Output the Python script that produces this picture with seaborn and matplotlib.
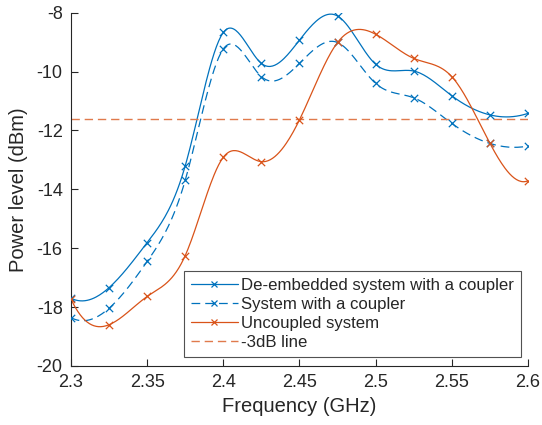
import numpy as np
import pandas as pd
import matplotlib
matplotlib.use("Agg")
import matplotlib.pyplot as plt
from matplotlib.lines import Line2D
import seaborn as sns

freq = [2.3, 2.325, 2.35, 2.375, 2.4, 2.425, 2.45, 2.475, 2.5, 2.525, 2.55, 2.575, 2.6]
deembedded = [-17.70, -17.34, -15.81, -13.20, -8.67, -9.72, -8.93, -8.11, -9.75, -9.98, -10.82, -11.47, -11.42]
with_coupler = [-18.36, -18.04, -16.45, -13.69, -9.23, -10.17, -9.72, -9.01, -10.40, -10.89, -11.76, -12.44, -12.53]
uncoupled = [-17.73, -18.60, -17.64, -16.25, -12.91, -13.06, -11.64, -9.01, -8.73, -9.55, -10.17, -12.43, -13.71]
line_3db = -11.6

labels = ["De-embedded system with a coupler", "System with a coupler", "Uncoupled system", "-3dB line"]
xticks = [2.3, 2.35, 2.4, 2.45, 2.5, 2.55, 2.6]
yticks = [-20, -18, -16, -14, -12, -10, -8]

BLUE = "#0072BD"
ORANGE = "#D95319"
ORANGE_LIGHT = "#E07A4C"


def spline_curve(x, y, num=400):
    """Not-a-knot cubic spline (like MATLAB's spline) evaluated for drawing the smooth curve."""
    x = np.asarray(x, float); y = np.asarray(y, float)
    n = len(x); m = n - 1
    A = np.zeros((4 * m, 4 * m)); b = np.zeros(4 * m)
    r = 0
    for i in range(m):
        h = x[i + 1] - x[i]
        A[r, 4 * i] = 1; b[r] = y[i]; r += 1
        A[r, 4 * i:4 * i + 4] = [1, h, h ** 2, h ** 3]; b[r] = y[i + 1]; r += 1
    for i in range(m - 1):
        h = x[i + 1] - x[i]
        A[r, 4 * i:4 * i + 4] = [0, 1, 2 * h, 3 * h ** 2]; A[r, 4 * (i + 1) + 1] = -1; r += 1
        A[r, 4 * i:4 * i + 4] = [0, 0, 2, 6 * h]; A[r, 4 * (i + 1) + 2] = -2; r += 1
    A[r, 3] = 1; A[r, 7] = -1; r += 1
    A[r, 4 * (m - 2) + 3] = 1; A[r, 4 * (m - 1) + 3] = -1; r += 1
    c = np.linalg.solve(A, b).reshape(m, 4)
    xs = np.linspace(x[0], x[-1], num)
    idx = np.clip(np.searchsorted(x, xs, side="right") - 1, 0, m - 1)
    t = xs - x[idx]
    ys = c[idx, 0] + c[idx, 1] * t + c[idx, 2] * t ** 2 + c[idx, 3] * t ** 3
    return xs, ys


sns.set_theme(style="white")
plt.rcParams["font.family"] = ["Liberation Sans", "DejaVu Sans"]

fig = plt.figure(figsize=(5.42, 4.25), dpi=100)
ax = fig.add_axes([0.131, 0.139, 0.843, 0.831])

LW = 0.9
DASH = (0, (7, 4))
series = [
    (deembedded, BLUE, "-"),
    (with_coupler, BLUE, DASH),
    (uncoupled, ORANGE, "-"),
]
for vals, col, ls in series:
    xs, ys = spline_curve(freq, vals)
    sns.lineplot(x=xs, y=ys, ax=ax, color=col, linewidth=LW, linestyle=ls, sort=False)
    sns.scatterplot(x=freq, y=vals, ax=ax, marker="x", color=col, s=28, linewidth=0.9, zorder=3)

ax.axhline(line_3db, color=ORANGE_LIGHT, linewidth=1.0, linestyle=(0, (6, 3.5)))

ax.set_xlim(2.3, 2.6)
ax.set_ylim(-20, -8)
ax.set_xticks(xticks)
ax.set_xticklabels([f"{v:g}" for v in xticks])
ax.set_yticks(yticks)
ax.set_yticklabels([f"{v:g}" for v in yticks])
ax.tick_params(bottom=True, left=True, direction="in", length=5, width=0.8,
               colors="#262626", labelsize=13, pad=6)
for s in ["top", "right"]:
    ax.spines[s].set_visible(False)
for s in ["left", "bottom"]:
    ax.spines[s].set_color("#262626")
    ax.spines[s].set_linewidth(0.8)

ax.set_xlabel("Frequency (GHz)", fontsize=14.5, color="#262626", labelpad=4)
ax.set_ylabel("Power level (dBm)", fontsize=14.5, color="#262626", labelpad=6)

handles = [
    Line2D([], [], color=BLUE, lw=LW, ls="-", marker="x", ms=5, mew=0.9),
    Line2D([], [], color=BLUE, lw=LW, ls=DASH, marker="x", ms=5, mew=0.9),
    Line2D([], [], color=ORANGE, lw=LW, ls="-", marker="x", ms=5, mew=0.9),
    Line2D([], [], color=ORANGE_LIGHT, lw=1.0, ls=(0, (6, 3.5))),
]
leg = ax.legend(handles, labels, loc="lower right", bbox_to_anchor=(0.984, 0.025),
                fontsize=12.1, handlelength=2.8, handletextpad=0.2, labelspacing=0.25,
                borderpad=0.4, borderaxespad=0, numpoints=1, frameon=True, fancybox=False)
leg.get_frame().set_edgecolor("#262626")
leg.get_frame().set_linewidth(0.8)

fig.savefig("out.png", dpi=100)
